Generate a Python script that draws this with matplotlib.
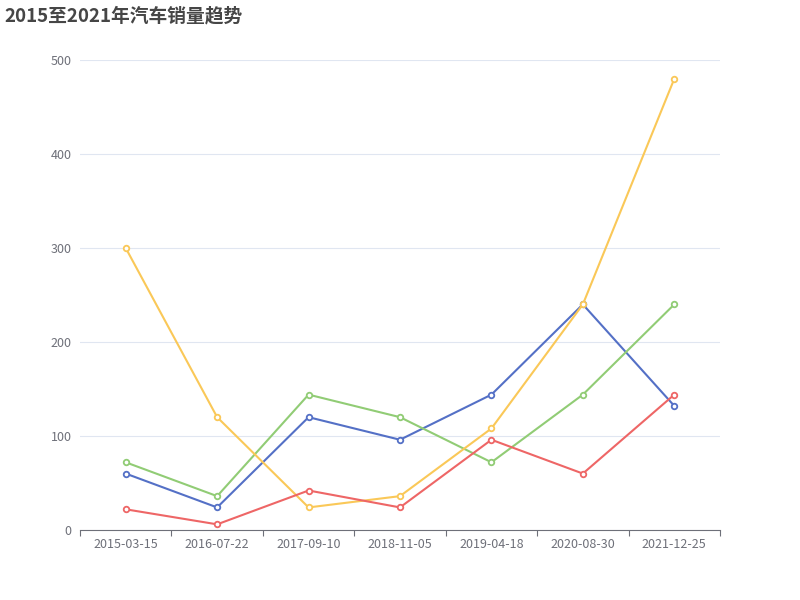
import matplotlib.pyplot as plt
from matplotlib.ticker import FixedLocator

plt.rcParams['font.family'] = ['Noto Sans CJK SC', 'DejaVu Sans']

dates = ['2015-03-15', '2016-07-22', '2017-09-10', '2018-11-05',
         '2019-04-18', '2020-08-30', '2021-12-25']
blue = [60, 24, 120, 96, 144, 240, 132]
green = [72, 36, 144, 120, 72, 144, 240]
yellow = [300, 120, 24, 36, 108, 240, 480]
red = [22, 6, 42, 24, 96, 60, 144]

series = [(blue, '#5470c6'), (green, '#91cc75'), (yellow, '#fac858'), (red, '#ee6666')]

fig = plt.figure(figsize=(8, 6), dpi=100)
ax = fig.add_axes([0.1, 0.1167, 0.8, 0.7833])

x = list(range(len(dates)))
for vals, c in series:
    ax.plot(x, vals, color=c, lw=1.5, marker='o', ms=4, mfc='white', mec=c, mew=1.3, zorder=3)

ax.set_xlim(-0.5, len(dates) - 0.5)
ax.set_ylim(0, 500)
ax.set_yticks([0, 100, 200, 300, 400, 500])
ax.yaxis.grid(True, color='#E0E6F1', lw=0.8)
ax.set_axisbelow(True)
ax.tick_params(axis='y', length=0, labelsize=9, labelcolor='#6E7079', pad=6)

ax.set_xticks(x)
ax.set_xticklabels(dates)
ax.xaxis.set_minor_locator(FixedLocator([i - 0.5 for i in range(len(dates) + 1)]))
ax.tick_params(axis='x', which='major', length=0, labelsize=9, labelcolor='#6E7079', pad=6)
ax.tick_params(axis='x', which='minor', length=4, color='#6E7079', width=0.8)

for s in ['top', 'right', 'left']:
    ax.spines[s].set_visible(False)
ax.spines['bottom'].set_color('#6E7079')
ax.spines['bottom'].set_linewidth(0.8)

fig.text(0.006, 0.973, '2015至2021年汽车销量趋势', fontsize=13.5, fontweight='bold',
         color='#464646', ha='left', va='center')

fig.savefig('out.png', dpi=100)
